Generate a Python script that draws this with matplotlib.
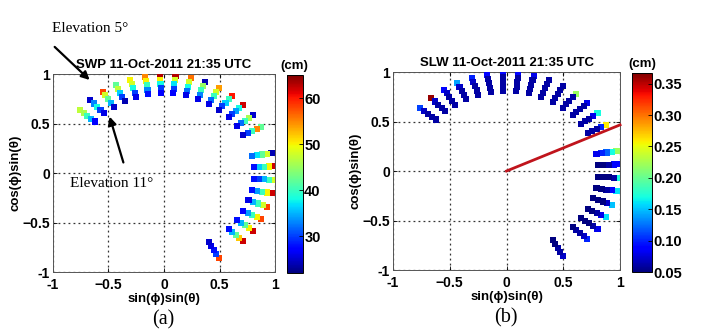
import numpy as np
import matplotlib.pyplot as plt
from matplotlib.colors import Normalize

# Beam azimuths (deg, clockwise from north) and the sample ranges along each beam
azimuths = [-50, -42, -34, -26, -18, -10, -2, 6, 14, 22, 30, 38, 46, 54, 62,
            78, 86, 94, 102, 110, 118, 126, 134, 150]
elevations = [5, 6.5, 8, 9.5, 11]
ray_radius = [0.99, 0.945, 0.9, 0.855, 0.81]

# SWP (cm), one row per azimuth, outer (5 deg) to inner (11 deg)
swp = [
    [47, 46, 40, 35, 27],
    [25, 33, 38, 30, 26],
    [58, 48, 42, 35, 25],
    [42, 47, 36, 30, 24],
    [50, 48, 38, 30, 26],
    [55, 50, 40, 33, 28],
    [63, 50, 38, 30, 27],
    [63, 48, 37, 30, 27],
    [56, 48, 38, 32, 26],
    [24, 45, 40, 33, 26],
    [54, 48, 40, 32, 26],
    [60, 40, 36, 30, 25],
    [62, 38, 34, 30, 26],
    [25, 46, 40, 32, 26],
    [42, 55, 40, 30, 25],
    [24, 48, 42, 37, 32],
    [62, 50, 40, 36, 28],
    [48, 40, 35, 30, 28],
    [62, 50, 40, 34, 28],
    [58, 48, 40, 35, 26],
    [58, 50, 40, 34, 27],
    [62, 50, 42, 35, 28],
    [62, 52, 42, 35, 28],
    [58, 30, 28, 26, 25],
]

# SLW (cm)
slw = [
    [0.11, 0.07, 0.06, 0.06, 0.06],
    [0.36, 0.07, 0.06, 0.06, 0.06],
    [0.09, 0.07, 0.06, 0.06, 0.06],
    [0.14, 0.07, 0.06, 0.06, 0.06],
    [0.10, 0.07, 0.06, 0.06, 0.06],
    [0.09, 0.06, 0.06, 0.06, 0.06],
    [0.09, 0.06, 0.06, 0.06, 0.06],
    [0.09, 0.06, 0.06, 0.06, 0.06],
    [0.08, 0.06, 0.06, 0.06, 0.06],
    [0.06, 0.06, 0.06, 0.06, 0.06],
    [0.06, 0.06, 0.06, 0.06, 0.06],
    [0.22, 0.06, 0.06, 0.06, 0.06],
    [0.08, 0.06, 0.06, 0.06, 0.06],
    [0.17, 0.08, 0.06, 0.06, 0.06],
    [0.26, 0.10, 0.06, 0.06, 0.06],
    [0.22, 0.17, 0.12, 0.10, 0.08],
    [0.09, 0.09, 0.06, 0.05, 0.05],
    [0.17, 0.06, 0.05, 0.05, 0.05],
    [0.16, 0.09, 0.06, 0.05, 0.05],
    [0.15, 0.07, 0.05, 0.05, 0.05],
    [0.16, 0.08, 0.06, 0.05, 0.05],
    [0.08, 0.06, 0.05, 0.05, 0.05],
    [0.10, 0.07, 0.06, 0.06, 0.05],
    [0.07, 0.06, 0.06, 0.05, 0.05],
]

swp_range = (22, 65)
slw_range = (0.05, 0.367)
swp_ticks = [30, 40, 50, 60]
slw_ticks = [0.05, 0.10, 0.15, 0.20, 0.25, 0.30, 0.35]
axis_ticks = [-1, -0.5, 0, 0.5, 1]
highlight_azimuth = 65
highlight_length = 1.103

sans = ['Liberation Sans', 'DejaVu Sans']
serif = ['Liberation Serif', 'DejaVu Serif']
plt.rcParams['font.family'] = sans


def beam_xy():
    az = np.deg2rad(np.repeat(np.array(azimuths, float)[:, None], len(ray_radius), axis=1))
    r = np.tile(np.array(ray_radius), (len(azimuths), 1))
    return r * np.sin(az), r * np.cos(az)


def style_axes(ax):
    ax.set_xlim(-1, 1)
    ax.set_ylim(-1, 1)
    ax.set_xticks(axis_ticks)
    ax.set_yticks(axis_ticks)
    ax.set_xticklabels(['-1', '\u22120.5', '0', '0.5', '1'])
    ax.set_yticklabels(['-1', '\u22120.5', '0', '0.5', '1'])
    ax.tick_params(direction='in', length=3, width=0.6, labelsize=10,
                   top=True, right=True)
    ax.tick_params(axis='x', pad=4)
    ax.tick_params(axis='y', pad=2)
    for lab in ax.get_xticklabels() + ax.get_yticklabels():
        lab.set_fontweight('bold')
    ax.grid(True, linestyle=(0, (1.5, 2.5)), color='#333333', linewidth=0.9)
    for s in ax.spines.values():
        s.set_linewidth(0.7)
        s.set_color('#555555')
    ax.set_xlabel('sin(\u03d5)sin(\u03b8)', fontsize=9.5, fontweight='bold', labelpad=1)
    ax.set_ylabel('cos(\u03d5)sin(\u03b8)', fontsize=9.5, fontweight='bold', labelpad=1)


def style_cbar(cb, ticks, fmt):
    cb.set_ticks(ticks)
    cb.set_ticklabels([fmt.format(t) for t in ticks])
    cb.ax.tick_params(direction='in', length=3, width=0.6, labelsize=10.5, pad=1)
    for lab in cb.ax.get_yticklabels():
        lab.set_fontweight('bold')
    cb.outline.set_linewidth(0.7)


fig = plt.figure(figsize=(7.01, 3.35), dpi=100)
ax_a = fig.add_axes([0.0756, 0.188, 0.3167, 0.591])
cax_a = fig.add_axes([0.409, 0.185, 0.023, 0.591])
ax_b = fig.add_axes([0.5606, 0.194, 0.324, 0.591])
cax_b = fig.add_axes([0.9016, 0.188, 0.0285, 0.594])

x, y = beam_xy()

for ax, cax, vals, vr, ticks, fmt, name in [
        (ax_a, cax_a, swp, swp_range, swp_ticks, '{:d}', 'SWP'),
        (ax_b, cax_b, slw, slw_range, slw_ticks, '{:.2f}', 'SLW')]:
    style_axes(ax)
    sc = ax.scatter(x.ravel(), y.ravel(), c=np.array(vals, float).ravel(),
                    cmap='jet', norm=Normalize(*vr), marker='s', s=19,
                    linewidths=0, zorder=3)
    cb = fig.colorbar(sc, cax=cax)
    style_cbar(cb, ticks, fmt)
    ax.set_title(f'{name} 11-Oct-2011 21:35 UTC', fontsize=9.5,
                 fontweight='bold', pad=4)
    cax.set_title('(cm)', fontsize=9.5, fontweight='bold', pad=4)

# Azimuth line on the SLW panel
t = np.deg2rad(highlight_azimuth)
ax_b.plot([0, highlight_length * np.sin(t)], [0, highlight_length * np.cos(t)],
          color='#c0141c', linewidth=2, zorder=4, clip_on=False)

arrow = dict(arrowstyle='-|>', color='black', lw=1.6, mutation_scale=12,
             shrinkA=0, shrinkB=0)
ax_a.annotate('Elevation 5\u00b0', xy=(-0.67, 0.94), xycoords='data',
              xytext=(0.128, 0.915), textcoords='figure fraction',
              fontsize=11, family=serif, ha='center', va='center')
ax_a.annotate('', xy=(-0.67, 0.94), xycoords='data',
              xytext=(0.078, 0.86), textcoords='figure fraction',
              arrowprops=arrow)
ax_a.annotate('Elevation 11\u00b0', xy=(-0.49, 0.57), xycoords='data',
              xytext=(0.159, 0.453), textcoords='figure fraction',
              fontsize=11, family=serif, ha='center', va='center')
ax_a.annotate('', xy=(-0.49, 0.57), xycoords='data',
              xytext=(0.176, 0.515), textcoords='figure fraction',
              arrowprops=arrow)
ax_b.annotate('Azimuth 65\u00b0', xy=(1.01, 0.59), xycoords='data',
              xytext=(0.852, 0.955), textcoords='figure fraction',
              fontsize=11, family=serif, ha='center', va='center')
ax_b.annotate('', xy=(1.01, 0.59), xycoords='data',
              xytext=(0.870, 0.89), textcoords='figure fraction',
              arrowprops=arrow)

fig.text(0.233, 0.045, '(a)', fontsize=14.5, family=serif, ha='center', va='center')
fig.text(0.721, 0.05, '(b)', fontsize=14.5, family=serif, ha='center', va='center')

fig.savefig('out.png', dpi=100)
